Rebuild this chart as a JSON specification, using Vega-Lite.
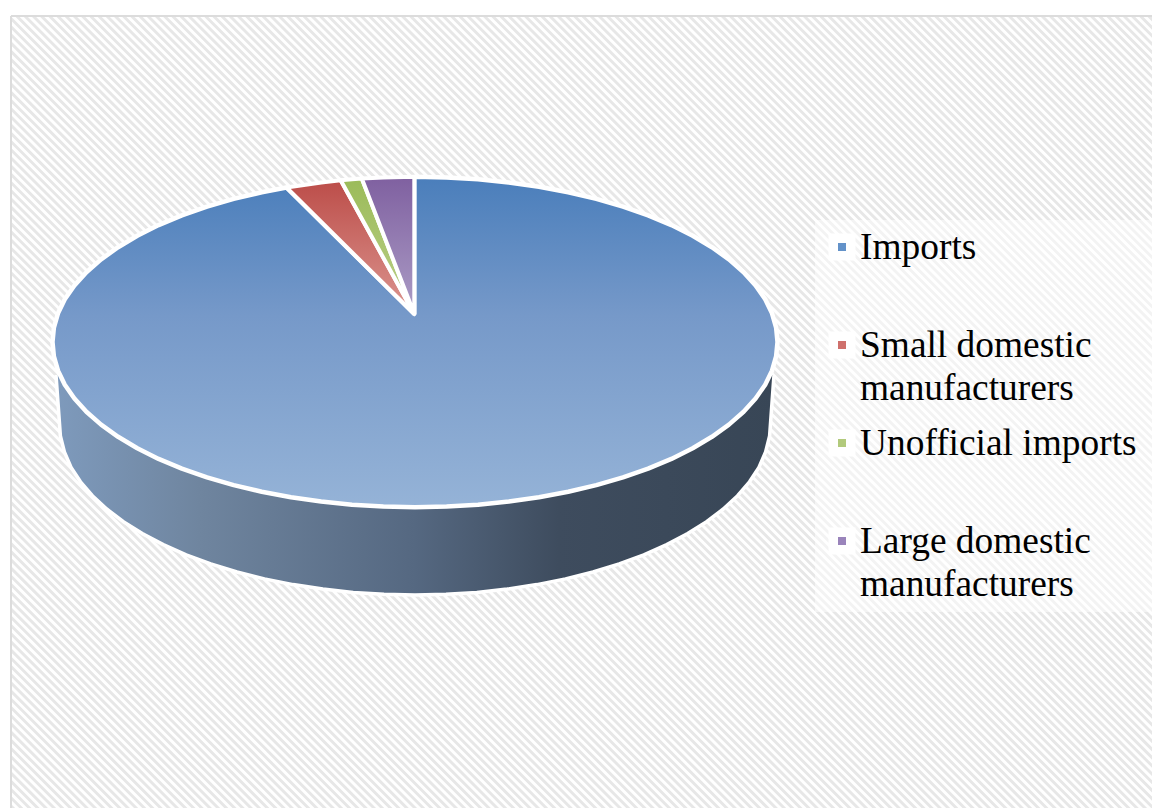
{
  "$schema": "https://vega.github.io/schema/vega-lite/v6.json",
  "width": 1141,
  "height": 792,
  "padding": {"left": 11, "top": 16, "right": 0, "bottom": 0},
  "autosize": "none",
  "background": "white",
  "config": {"view": {"stroke": null}},
  "datasets": {
    "hatch": [{"x": -404, "y": -464.5, "x2": 596, "y2": 535.5}],
    "frameLeft": [{"x": -404, "y": -464.5, "y2": 327.5}],
    "frameTop": [{"x": -404, "x2": 737, "y": 327.5}],
    "legendBox": [{"x": 400, "x2": 737, "y": 123.5, "y2": -268.5}],
    "legendKeys": [
      {"category": "Imports", "x": 427, "y": 96.5},
      {"category": "Small domestic manufacturers", "x": 427, "y": -1.5},
      {"category": "Unofficial imports", "x": 427, "y": -99.5},
      {"category": "Large domestic manufacturers", "x": 427, "y": -197.5}
    ],
    "legendLabels": [
      {"label": "Imports", "x": 445, "y": 84.5},
      {"label": "Small domestic\nmanufacturers", "x": 445, "y": -13.5},
      {"label": "Unofficial imports", "x": 445, "y": -111.5},
      {"label": "Large domestic\nmanufacturers", "x": 445, "y": -209.5}
    ],
    "wall": [
      {"n": 1, "x": -359, "y": -31.5}, {"n": 2, "x": -354.6, "y": -92.5}, {"n": 3, "x": -350.6, "y": -108.4},
      {"n": 4, "x": -343.9, "y": -124}, {"n": 5, "x": -334.5, "y": -138.3}, {"n": 6, "x": -322.6, "y": -152.2},
      {"n": 7, "x": -308.3, "y": -165.5}, {"n": 8, "x": -291.6, "y": -178.2}, {"n": 9, "x": -272.7, "y": -190.1},
      {"n": 10, "x": -251.7, "y": -201.1}, {"n": 11, "x": -228.8, "y": -211.3}, {"n": 12, "x": -204.2, "y": -220.4},
      {"n": 13, "x": -178, "y": -228.5}, {"n": 14, "x": -150.5, "y": -235.4}, {"n": 15, "x": -121.8, "y": -241.1},
      {"n": 16, "x": -92.1, "y": -245.6}, {"n": 17, "x": -61.8, "y": -248.9}, {"n": 18, "x": -31, "y": -250.8},
      {"n": 19, "x": 0, "y": -251.5}, {"n": 20, "x": 31, "y": -250.8}, {"n": 21, "x": 61.8, "y": -248.9},
      {"n": 22, "x": 92.1, "y": -245.6}, {"n": 23, "x": 121.8, "y": -241.1}, {"n": 24, "x": 150.5, "y": -235.4},
      {"n": 25, "x": 178, "y": -228.5}, {"n": 26, "x": 204.2, "y": -220.4}, {"n": 27, "x": 228.8, "y": -211.3},
      {"n": 28, "x": 251.7, "y": -201.1}, {"n": 29, "x": 272.7, "y": -190.1}, {"n": 30, "x": 291.6, "y": -178.2},
      {"n": 31, "x": 308.3, "y": -165.5}, {"n": 32, "x": 322.6, "y": -152.2}, {"n": 33, "x": 334.5, "y": -138.3},
      {"n": 34, "x": 343.9, "y": -124}, {"n": 35, "x": 350.6, "y": -108.4}, {"n": 36, "x": 354.6, "y": -92.5},
      {"n": 37, "x": 359, "y": -31.5}
    ],
    "imports": [
      {"n": 1, "x": -0.7, "y": 166.75}, {"n": 2, "x": 31.6, "y": 166.1}, {"n": 3, "x": 63, "y": 164.2},
      {"n": 4, "x": 93.8, "y": 161.1}, {"n": 5, "x": 124, "y": 156.8}, {"n": 6, "x": 153.2, "y": 151.2},
      {"n": 7, "x": 181.3, "y": 144.6}, {"n": 8, "x": 208, "y": 136.8}, {"n": 9, "x": 233.1, "y": 128.1},
      {"n": 10, "x": 256.4, "y": 118.4}, {"n": 11, "x": 277.7, "y": 107.7}, {"n": 12, "x": 296.9, "y": 96.3},
      {"n": 13, "x": 313.9, "y": 84.1}, {"n": 14, "x": 328.6, "y": 71.3}, {"n": 15, "x": 340.6, "y": 58},
      {"n": 16, "x": 350.2, "y": 44.2}, {"n": 17, "x": 357, "y": 30.2}, {"n": 18, "x": 361.1, "y": 15.9},
      {"n": 19, "x": 362.5, "y": 1.5}, {"n": 20, "x": 361.1, "y": -12.9}, {"n": 21, "x": 357, "y": -27.2},
      {"n": 22, "x": 350.2, "y": -41.2}, {"n": 23, "x": 340.6, "y": -55}, {"n": 24, "x": 328.6, "y": -68.3},
      {"n": 25, "x": 313.9, "y": -81.1}, {"n": 26, "x": 296.9, "y": -93.3}, {"n": 27, "x": 277.7, "y": -104.7},
      {"n": 28, "x": 256.4, "y": -115.4}, {"n": 29, "x": 233.1, "y": -125.1}, {"n": 30, "x": 208, "y": -133.8},
      {"n": 31, "x": 181.3, "y": -141.6}, {"n": 32, "x": 153.2, "y": -148.2}, {"n": 33, "x": 124, "y": -153.8},
      {"n": 34, "x": 93.8, "y": -158.1}, {"n": 35, "x": 63, "y": -161.2}, {"n": 36, "x": 31.6, "y": -163.1},
      {"n": 37, "x": 0, "y": -163.75}, {"n": 38, "x": -31.6, "y": -163.1}, {"n": 39, "x": -63, "y": -161.2},
      {"n": 40, "x": -93.8, "y": -158.1}, {"n": 41, "x": -124, "y": -153.8}, {"n": 42, "x": -153.2, "y": -148.2},
      {"n": 43, "x": -181.3, "y": -141.6}, {"n": 44, "x": -208, "y": -133.8}, {"n": 45, "x": -233.1, "y": -125.1},
      {"n": 46, "x": -256.4, "y": -115.4}, {"n": 47, "x": -277.7, "y": -104.7}, {"n": 48, "x": -296.9, "y": -93.3},
      {"n": 49, "x": -313.9, "y": -81.1}, {"n": 50, "x": -328.6, "y": -68.3}, {"n": 51, "x": -340.6, "y": -55},
      {"n": 52, "x": -350.2, "y": -41.2}, {"n": 53, "x": -357, "y": -27.2}, {"n": 54, "x": -361.1, "y": -12.9},
      {"n": 55, "x": -362.5, "y": 1.5}, {"n": 56, "x": -361.1, "y": 15.9}, {"n": 57, "x": -357, "y": 30.2},
      {"n": 58, "x": -350.2, "y": 44.2}, {"n": 59, "x": -340.6, "y": 58}, {"n": 60, "x": -328.6, "y": 71.3},
      {"n": 61, "x": -313.9, "y": 84.1}, {"n": 62, "x": -296.9, "y": 96.3}, {"n": 63, "x": -277.7, "y": 107.7},
      {"n": 64, "x": -256.4, "y": 118.4}, {"n": 65, "x": -233.1, "y": 128.1}, {"n": 66, "x": -208, "y": 136.8},
      {"n": 67, "x": -181.3, "y": 144.6}, {"n": 68, "x": -153.2, "y": 151.2}, {"n": 69, "x": -128.5, "y": 156},
      {"n": 70, "x": -0.7, "y": 29.5}, {"n": 71, "x": -0.7, "y": 166.75}
    ],
    "smallDomestic": [
      {"n": 1, "x": -0.7, "y": 29.5}, {"n": 2, "x": -128.5, "y": 156}, {"n": 3, "x": -93.8, "y": 161.1},
      {"n": 4, "x": -74.3, "y": 163.2}, {"n": 5, "x": -0.7, "y": 29.5}
    ],
    "unofficial": [
      {"n": 1, "x": -0.7, "y": 29.5}, {"n": 2, "x": -74.3, "y": 163.2}, {"n": 3, "x": -63, "y": 164.2},
      {"n": 4, "x": -53.2, "y": 165}, {"n": 5, "x": -0.7, "y": 29.5}
    ],
    "largeDomestic": [
      {"n": 1, "x": -0.7, "y": 29.5}, {"n": 2, "x": -53.2, "y": 165}, {"n": 3, "x": -31.6, "y": 166.1},
      {"n": 4, "x": -0.7, "y": 166.75}, {"n": 5, "x": -0.7, "y": 29.5}
    ]
  },
  "encoding": {
    "x": {"field": "x", "type": "quantitative", "axis": null, "scale": {"domain": [-404, 737], "nice": false, "zero": false}},
    "y": {"field": "y", "type": "quantitative", "axis": null, "scale": {"domain": [-464.5, 327.5], "nice": false, "zero": false}}
  },
  "layer": [
    {
      "data": {"name": "hatch"},
      "mark": {"type": "rule", "clip": true, "stroke": "#e7e7e7", "strokeWidth": 1800, "strokeDash": [2.9, 2.9]},
      "encoding": {"x2": {"field": "x2"}, "y2": {"field": "y2"}}
    },
    {
      "data": {"name": "frameLeft"},
      "mark": {"type": "rule", "stroke": "#dcdcdc", "strokeWidth": 2},
      "encoding": {"y2": {"field": "y2"}}
    },
    {
      "data": {"name": "frameTop"},
      "mark": {"type": "rule", "stroke": "#dcdcdc", "strokeWidth": 2},
      "encoding": {"x2": {"field": "x2"}}
    },
    {
      "data": {"name": "legendBox"},
      "mark": {"type": "rect", "fill": "white", "fillOpacity": 0.5},
      "encoding": {"x2": {"field": "x2"}, "y2": {"field": "y2"}}
    },
    {
      "data": {"name": "wall"},
      "mark": {
        "type": "line", "stroke": "white", "strokeWidth": 3.5, "strokeJoin": "round",
        "fill": {"gradient": "linear", "x1": 0, "y1": 0, "x2": 1, "y2": 0, "stops": [
          {"offset": 0, "color": "#7e9abc"}, {"offset": 0.2, "color": "#6f859f"},
          {"offset": 0.5, "color": "#556881"}, {"offset": 0.7, "color": "#3e4c5e"},
          {"offset": 1, "color": "#384656"}
        ]}
      },
      "encoding": {"order": {"field": "n", "type": "quantitative"}}
    },
    {
      "data": {"name": "imports"},
      "mark": {
        "type": "line", "stroke": "white", "strokeWidth": 4.5, "strokeJoin": "round",
        "fill": {"gradient": "linear", "x1": 0, "y1": 0, "x2": 0, "y2": 1, "stops": [
          {"offset": 0, "color": "#4a7ebb"}, {"offset": 0.42, "color": "#7699c9"}, {"offset": 1, "color": "#95b3d7"}
        ]}
      },
      "encoding": {"order": {"field": "n", "type": "quantitative"}}
    },
    {
      "data": {"name": "smallDomestic"},
      "mark": {
        "type": "line", "stroke": "white", "strokeWidth": 4, "strokeJoin": "round",
        "fill": {"gradient": "linear", "x1": 0, "y1": 0, "x2": 0, "y2": 1, "stops": [
          {"offset": 0, "color": "#bc4d49"}, {"offset": 1, "color": "#dc9690"}
        ]}
      },
      "encoding": {"order": {"field": "n", "type": "quantitative"}}
    },
    {
      "data": {"name": "unofficial"},
      "mark": {
        "type": "line", "stroke": "white", "strokeWidth": 4, "strokeJoin": "round",
        "fill": {"gradient": "linear", "x1": 0, "y1": 0, "x2": 0, "y2": 1, "stops": [
          {"offset": 0, "color": "#9bbb59"}, {"offset": 1, "color": "#bcd08a"}
        ]}
      },
      "encoding": {"order": {"field": "n", "type": "quantitative"}}
    },
    {
      "data": {"name": "largeDomestic"},
      "mark": {
        "type": "line", "stroke": "white", "strokeWidth": 4, "strokeJoin": "round",
        "fill": {"gradient": "linear", "x1": 0, "y1": 0, "x2": 0, "y2": 1, "stops": [
          {"offset": 0, "color": "#7f60a0"}, {"offset": 1, "color": "#ac9dc6"}
        ]}
      },
      "encoding": {"order": {"field": "n", "type": "quantitative"}}
    },
    {
      "data": {"name": "legendKeys"},
      "mark": {"type": "square", "size": 730, "filled": true, "color": "white", "opacity": 1, "cornerRadius": 4}
    },
    {
      "data": {"name": "legendKeys"},
      "mark": {"type": "square", "size": 64, "filled": true, "opacity": 1},
      "encoding": {
        "color": {
          "field": "category", "type": "nominal", "legend": null,
          "scale": {
            "domain": ["Imports", "Small domestic manufacturers", "Unofficial imports", "Large domestic manufacturers"],
            "range": ["#6392c9", "#cf706c", "#b2ca7c", "#9a84bb"]
          }
        }
      }
    },
    {
      "data": {"name": "legendLabels"},
      "mark": {
        "type": "text", "font": "Liberation Serif", "fontSize": 37.4, "align": "left", "baseline": "alphabetic",
        "lineBreak": "\n", "lineHeight": 43, "color": "#000000"
      },
      "encoding": {"text": {"field": "label", "type": "nominal"}}
    }
  ]
}
